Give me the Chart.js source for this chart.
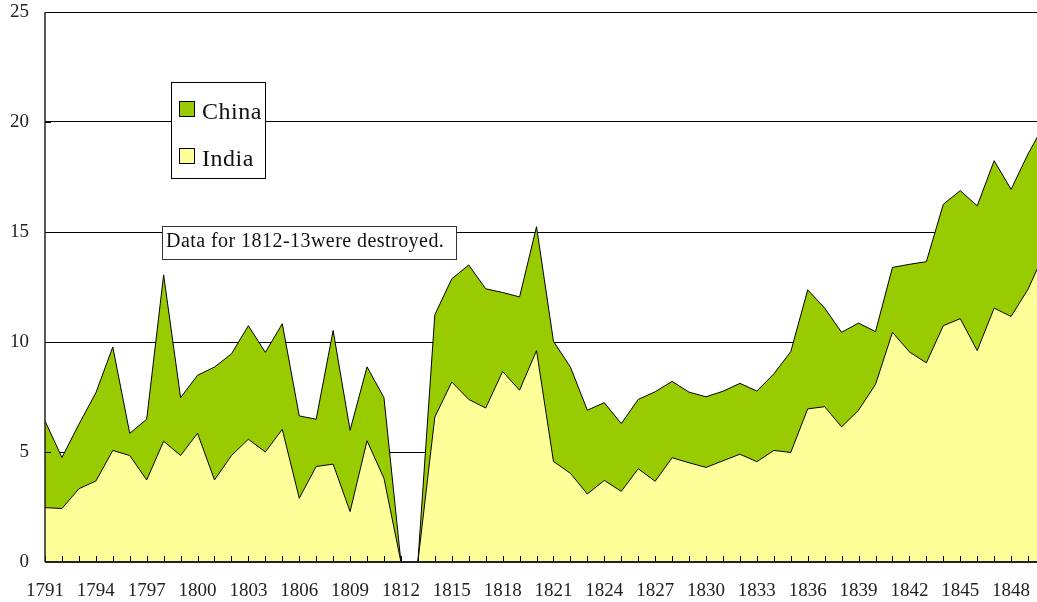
<!DOCTYPE html>
<html>
<head>
<meta charset="utf-8">
<script src="https://cdn.jsdelivr.net/npm/chart.js@4.4.1/dist/chart.umd.min.js"></script>
<style>
html, body { margin: 0; padding: 0; background: #fff; overflow: hidden; }
#wrap { width: 1037px; height: 602px; overflow: hidden; }
</style>
</head>
<body>
<div id="wrap"><canvas id="chart" width="1063" height="602"></canvas></div>
<script>
var years = ['1791','1792','1793','1794','1795','1796','1797','1798','1799','1800',
             '1801','1802','1803','1804','1805','1806','1807','1808','1809','1810',
             '1811','1812','1813','1814','1815','1816','1817','1818','1819','1820',
             '1821','1822','1823','1824','1825','1826','1827','1828','1829','1830',
             '1831','1832','1833','1834','1835','1836','1837','1838','1839','1840',
             '1841','1842','1843','1844','1845','1846','1847','1848','1849','1850'];

var india = [2.47, 2.43, 3.33, 3.68, 5.07, 4.84, 3.73, 5.49, 4.84, 5.85,
             3.73, 4.84, 5.58, 5.00, 6.03, 2.90, 4.34, 4.45, 2.29, 5.51,
             3.80, 0, 0, 6.59, 8.18, 7.39, 7.00, 8.66, 7.81, 9.61,
             4.57, 4.03, 3.09, 3.71, 3.21, 4.24, 3.67, 4.74, 4.51, 4.30,
             4.60, 4.90, 4.56, 5.07, 4.98, 6.96, 7.06, 6.14, 6.90, 8.07,
             10.44, 9.55, 9.05, 10.74, 11.06, 9.61, 11.54, 11.16, 12.40, 14.10];

var china = [3.94, 2.32, 2.93, 4.01, 4.70, 1.01, 2.76, 7.56, 2.63, 2.64,
             5.13, 4.62, 5.16, 4.53, 4.80, 3.74, 2.15, 6.07, 3.70, 3.36,
             3.67, 0, 0, 4.65, 4.69, 6.11, 5.42, 3.59, 4.24, 5.63,
             5.46, 4.83, 3.81, 3.53, 3.08, 3.15, 4.07, 3.47, 3.21, 3.21,
             3.16, 3.22, 3.21, 3.48, 4.58, 5.41, 4.48, 4.30, 3.96, 2.40,
             2.95, 3.98, 4.60, 5.52, 5.82, 6.58, 6.70, 5.78, 6.15, 5.84];

var xTickLabels = ['1791','1794','1797','1800','1803','1806','1809','1812','1815','1818',
                   '1821','1824','1827','1830','1833','1836','1839','1842','1845','1848'];
var yTicks = [0, 5, 10, 15, 20, 25];
var note = 'Data for 1812-13were destroyed.';

var serif = '"Liberation Serif", "DejaVu Serif", serif';

// tick marks inside the plot, axis lines, legend box and the note
var decor = {
    id: 'decor',
    afterDatasetsDraw: function(chart) {
        var ctx = chart.ctx;
        var a = chart.chartArea;
        var xs = chart.scales.x, ys = chart.scales.y;
        ctx.save();

        ctx.strokeStyle = '#000';
        ctx.lineWidth = 1;
        ctx.beginPath();
        for (var i = 0; i < years.length; i++) {
            var px = Math.round(xs.getPixelForValue(i)) + 0.5;
            ctx.moveTo(px, a.bottom);
            ctx.lineTo(px, a.bottom - 6);
        }
        yTicks.forEach(function(v) {
            var py = Math.round(ys.getPixelForValue(v)) + 0.5;
            ctx.moveTo(a.left, py);
            ctx.lineTo(a.left + 6, py);
        });
        ctx.stroke();

        ctx.strokeStyle = '#222';
        ctx.lineWidth = 2;
        ctx.beginPath();
        ctx.moveTo(a.left, a.bottom);
        ctx.lineTo(a.right, a.bottom);
        ctx.stroke();
        ctx.lineWidth = 1.5;
        ctx.beginPath();
        ctx.moveTo(a.left, a.top);
        ctx.lineTo(a.left, a.bottom);
        ctx.stroke();

        // legend
        ctx.fillStyle = '#fff';
        ctx.fillRect(171.5, 82.5, 94, 96);
        ctx.strokeStyle = '#000';
        ctx.lineWidth = 1;
        ctx.strokeRect(171.5, 82.5, 94, 96);
        var ds = chart.data.datasets;
        var items = [ds[1], ds[0]];
        ctx.font = '24px ' + serif;
        ctx.textBaseline = 'alphabetic';
        ctx.letterSpacing = '0.5px';
        items.forEach(function(d, k) {
            var top = 101.5 + k * 47;
            ctx.fillStyle = d.backgroundColor;
            ctx.fillRect(179.5, top, 15, 15);
            ctx.strokeStyle = '#000';
            ctx.strokeRect(179.5, top, 15, 15);
            ctx.fillStyle = '#111';
            ctx.fillText(d.label, 202, top + 17);
        });

        // note
        ctx.fillStyle = '#fff';
        ctx.fillRect(162.5, 226.5, 294, 33);
        ctx.strokeStyle = '#333';
        ctx.strokeRect(162.5, 226.5, 294, 33);
        ctx.font = '20px ' + serif;
        ctx.letterSpacing = '0.45px';
        ctx.fillStyle = '#111';
        ctx.fillText(note, 166, 247);

        ctx.restore();
    }
};

var ctx = document.getElementById('chart').getContext('2d');
var chart = new Chart(ctx, {
    type: 'line',
    data: {
        labels: years,
        datasets: [{
            label: 'India',
            data: india,
            backgroundColor: '#FFFF99',
            borderColor: '#000',
            borderWidth: 1,
            fill: 'origin',
            pointRadius: 0,
            tension: 0
        }, {
            label: 'China',
            data: china,
            backgroundColor: '#99CC00',
            borderColor: '#000',
            borderWidth: 1,
            fill: '-1',
            pointRadius: 0,
            tension: 0
        }]
    },
    options: {
        responsive: false,
        animation: false,
        layout: { padding: { top: 12, right: 0, left: 0, bottom: 0 } },
        plugins: {
            legend: { display: false },
            tooltip: { enabled: false }
        },
        scales: {
            x: {
                offset: false,
                grid: { display: false, drawTicks: false },
                border: { display: false },
                ticks: {
                    autoSkip: false,
                    maxRotation: 0,
                    padding: 18,
                    color: '#222',
                    font: { family: serif, size: 19 },
                    callback: function(v, i) {
                        var lab = years[i];
                        return xTickLabels.indexOf(lab) >= 0 ? lab : '';
                    }
                },
                afterFit: function(s) { s.height = 40; }
            },
            y: {
                stacked: true,
                min: 0,
                max: 25,
                grid: { color: '#000', lineWidth: 1, drawTicks: true, tickLength: 16, tickColor: 'rgba(0,0,0,0)' },
                border: { display: false },
                ticks: {
                    stepSize: 5,
                    padding: 0,
                    color: '#222',
                    font: { family: serif, size: 19 }
                },
                afterFit: function(s) { s.width = 45; }
            }
        }
    },
    plugins: [decor]
});
</script>
</body>
</html>
